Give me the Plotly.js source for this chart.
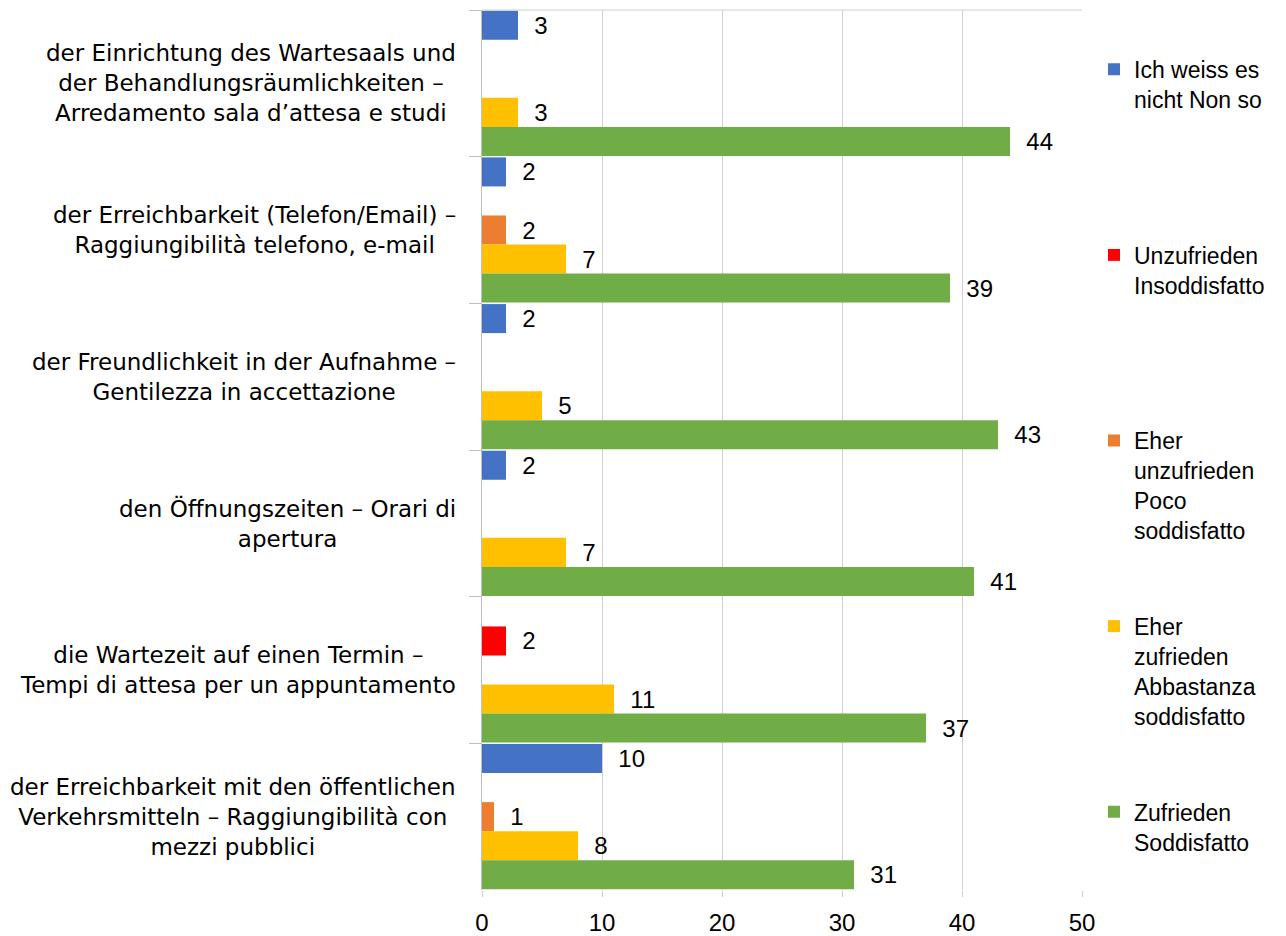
<!DOCTYPE html>
<html>
<head>
<meta charset="utf-8">
<script src="https://cdn.plot.ly/plotly-3.0.1.min.js"></script>
<style>
  body { margin: 0; background: #fff; }
  #chart { width: 1286px; height: 936px; }
</style>
</head>
<body>
<div id="chart"></div>
<script>
const categories = [
  "der Einrichtung des Wartesaals und<br>der Behandlungsräumlichkeiten –<br>Arredamento sala d’attesa e studi",
  "der Erreichbarkeit (Telefon/Email) –<br>Raggiungibilità telefono, e-mail",
  "der Freundlichkeit in der Aufnahme –<br>Gentilezza in accettazione",
  "den Öffnungszeiten – Orari di<br>apertura",
  "die Wartezeit auf einen Termin –<br>Tempi di attesa per un appuntamento",
  "der Erreichbarkeit mit den öffentlichen<br>Verkehrsmitteln – Raggiungibilità con<br>mezzi pubblici"
];

// padded to 4 lines each so the legend entries start at even steps
const seriesNames = [
  "Ich weiss es<br>nicht Non so<br>\u00a0<br>\u00a0",
  "Unzufrieden<br>Insoddisfatto<br>\u00a0<br>\u00a0",
  "Eher<br>unzufrieden<br>Poco<br>soddisfatto",
  "Eher<br>zufrieden<br>Abbastanza<br>soddisfatto",
  "Zufrieden<br>Soddisfatto"
];

const weissNicht = [3, 2, 2, 2, null, 10];
const unzufrieden = [null, null, null, null, 2, null];
const eherUnzufrieden = [null, 2, null, null, null, 1];
const eherZufrieden = [3, 7, 5, 7, 11, 8];
const zufrieden = [44, 39, 43, 41, 37, 31];

const colors = ["#4472C4", "#FF0000", "#ED7D31", "#FFC000", "#70AD47"];

const font = "Liberation Sans, Arial, sans-serif";
const labelFont = "DejaVu Sans, sans-serif";

const values = [weissNicht, unzufrieden, eherUnzufrieden, eherZufrieden, zufrieden];

const data = values.map((vals, i) => ({
  type: "bar",
  orientation: "h",
  name: seriesNames[i],
  legendgroup: "g" + i,
  x: vals,
  y: categories,
  marker: {color: colors[i]},
  text: vals.map(v => v === null ? "" : String(v)),
  texttemplate: "\u00a0\u00a0%{text}",
  textposition: "outside",
  constraintext: "none",
  cliponaxis: false,
  textfont: {family: font, size: 24, color: "#000"},
  hoverinfo: "x+name"
}));

const labels = categories.map(c => ({
  xref: "paper",
  yref: "y",
  x: 0,
  y: c,
  xanchor: "right",
  xshift: -24,
  align: "center",
  showarrow: false,
  text: c,
  font: {family: labelFont, size: 23, color: "#000"}
}));

const layout = {
  width: 1286,
  height: 936,
  margin: {l: 482, r: 204, t: 10, b: 46},
  barmode: "group",
  bargap: 0.01,
  bargroupgap: 0,
  paper_bgcolor: "#fff",
  plot_bgcolor: "#fff",
  font: {family: font, size: 23, color: "#000"},
  xaxis: {
    range: [0, 50],
    dtick: 10,
    showgrid: true,
    gridcolor: "#d0d0d0",
    zeroline: false,
    showline: false,
    ticks: "outside",
    ticklen: 6,
    tickcolor: "#d0d0d0",
    ticklabelstandoff: 5,
    tickfont: {family: font, size: 24, color: "#000"},
    fixedrange: true
  },
  yaxis: {
    type: "category",
    autorange: "reversed",
    showticklabels: false,
    showgrid: false,
    showline: true,
    linecolor: "#bfbfbf",
    ticks: "outside",
    tickson: "boundaries",
    ticklen: 12,
    tickcolor: "#bfbfbf",
    fixedrange: true
  },
  shapes: [{
    type: "line", xref: "paper", yref: "paper",
    x0: 0, x1: 1, y0: 1, y1: 1,
    line: {color: "#d0d0d0", width: 1}
  }],
  annotations: labels,
  showlegend: true,
  legend: {
    x: 1.02,
    xanchor: "left",
    y: 0.957,
    yanchor: "top",
    valign: "top",
    traceorder: "grouped",
    tracegroupgap: 63,
    font: {family: font, size: 23, color: "#000"},
    bgcolor: "rgba(0,0,0,0)"
  }
};

Plotly.newPlot("chart", data, layout, {displayModeBar: false});
</script>
</body>
</html>
